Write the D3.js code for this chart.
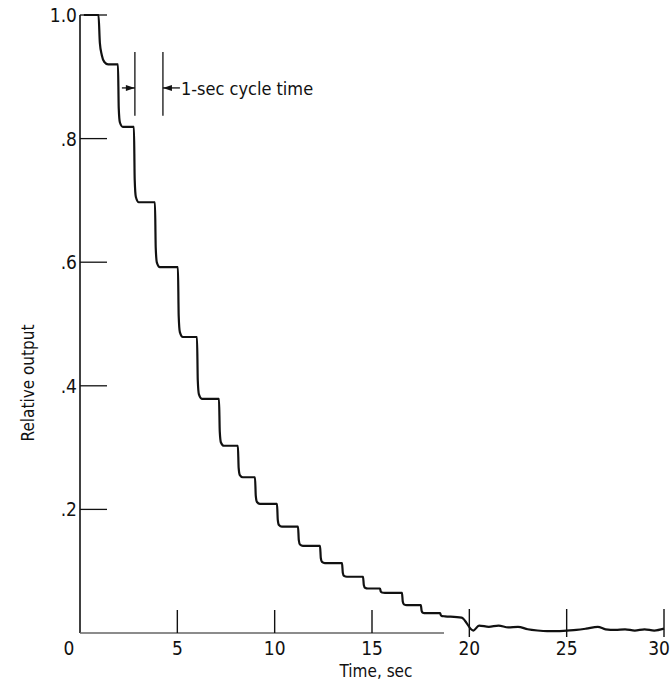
<!DOCTYPE html>
<html>
<head>
<meta charset="utf-8">
<script src="https://cdn.jsdelivr.net/npm/d3@7"></script>
<style>
  body { margin: 0; background: #fff; }
  svg text { font-family: "Liberation Sans Narrow", "DejaVu Sans Condensed", "Arial Narrow", sans-serif; fill: #111; }
</style>
</head>
<body>
<script>
// axis ticks
var xTicks = [0, 5, 10, 15, 20, 25, 30];
var yTicks = [0.2, 0.4, 0.6, 0.8, 1.0];
var yTickLabels = [".2", ".4", ".6", ".8", "1.0"];

// start of trace: flat at 1.0 then the first (rounded) drop
var headTimes = [0.2, 0.95, 1.02, 1.12, 1.25, 1.45];
var headValues = [1.0, 1.0, 0.955, 0.935, 0.924, 0.920];

// staircase: time of each drop (sec) and the level reached after it
var dropTimes = [1.95, 2.77, 3.85, 5.03, 6.01, 7.14, 8.11, 8.99, 10.12, 11.2, 12.33, 13.46, 14.54, 15.41, 16.54, 17.51, 18.5];
var dropLevels = [0.819, 0.697, 0.592, 0.479, 0.379, 0.303, 0.252, 0.209, 0.172, 0.141, 0.113, 0.091, 0.072, 0.065, 0.045, 0.032, 0.027];

// noisy tail near zero
var tailTimes = [19.6, 20.2, 20.5, 21.0, 21.5, 22.0, 22.5, 23.0, 23.5, 24.0, 24.5, 25.0, 25.5, 26.0, 26.6, 27.0, 27.5, 28.0, 28.5, 29.0, 29.5, 30.0];
var tailValues = [0.025, 0.004, 0.012, 0.010, 0.012, 0.009, 0.010, 0.006, 0.004, 0.003, 0.003, 0.004, 0.005, 0.007, 0.010, 0.006, 0.005, 0.006, 0.004, 0.006, 0.004, 0.007];

// "1-sec cycle time" marker
var markTimes = [2.82, 4.26];
var markRange = [0.837, 0.940];
var markArrowY = 0.882;

var svg = d3.select("body").append("svg")
    .attr("width", 672)
    .attr("height", 688);

var x = d3.scaleLinear().domain([0, 30]).range([80, 664]);
var y = d3.scaleLinear().domain([0, 1]).range([633, 15]);

// build trace points
var pts = [];
headTimes.forEach(function(t, i) { pts.push([t, headValues[i]]); });
var prev = headValues[headValues.length - 1];
dropTimes.forEach(function(t, i) {
    var v = dropLevels[i], d = prev - v;
    pts.push([t, prev]);
    pts.push([t + 0.04, v + d * 0.3]);
    pts.push([t + 0.1, v + d * 0.07]);
    pts.push([t + 0.25, v]);
    prev = v;
});
tailTimes.forEach(function(t, i) { pts.push([t, tailValues[i]]); });

// axes lines
svg.append("line")
    .attr("x1", x(0)).attr("x2", x(0))
    .attr("y1", y(1)).attr("y2", y(0))
    .attr("stroke", "#111").attr("stroke-width", 1.6);
svg.append("line")
    .attr("x1", x(0)).attr("x2", x(18.7))
    .attr("y1", y(0)).attr("y2", y(0))
    .attr("stroke", "#666").attr("stroke-width", 1.4);

// y ticks (inward)
svg.selectAll(".ytick")
    .data(yTicks)
    .enter().append("line")
    .attr("x1", x(0)).attr("x2", x(0) + 27)
    .attr("y1", function(d) { return y(d); })
    .attr("y2", function(d) { return y(d); })
    .attr("stroke", "#111").attr("stroke-width", 1.3);

svg.selectAll(".ylab")
    .data(yTicks)
    .enter().append("text")
    .attr("x", x(0) - 3)
    .attr("y", function(d) { return y(d) + 7; })
    .attr("text-anchor", "end")
    .attr("font-size", 19)
    .text(function(d, i) { return yTickLabels[i]; });

// x ticks
svg.selectAll(".xtick")
    .data(xTicks.slice(1))
    .enter().append("line")
    .attr("x1", function(d) { return x(d); })
    .attr("x2", function(d) { return x(d); })
    .attr("y1", function(d) { return d >= 20 ? y(0) - 24 : y(0) - 23; })
    .attr("y2", function(d) { return d >= 20 ? y(0) + 4 : y(0); })
    .attr("stroke", "#111").attr("stroke-width", 1.4);

svg.selectAll(".xlab")
    .data(xTicks)
    .enter().append("text")
    .attr("x", function(d) { return d === 0 ? x(d) - 11 : (d === 30 ? x(d) + 6 : x(d)); })
    .attr("y", y(0) + 22)
    .attr("text-anchor", function(d) { return d === 30 ? "end" : "middle"; })
    .attr("font-size", 19)
    .text(function(d) { return d; });

// axis titles
svg.append("text")
    .attr("x", 376).attr("y", 677)
    .attr("text-anchor", "middle")
    .attr("font-size", 17)
    .text("Time,  sec");

svg.append("text")
    .attr("transform", "translate(34,383) rotate(-90)")
    .attr("text-anchor", "middle")
    .attr("font-size", 17)
    .text("Relative output");

// trace
var line = d3.line()
    .x(function(d) { return x(d[0]); })
    .y(function(d) { return y(d[1]); })
    .curve(d3.curveMonotoneX);

svg.append("path")
    .datum(pts)
    .attr("d", line)
    .attr("fill", "none")
    .attr("stroke", "#111")
    .attr("stroke-width", 2.2)
    .attr("stroke-linejoin", "round");

// cycle-time marker
svg.selectAll(".mark")
    .data(markTimes)
    .enter().append("line")
    .attr("x1", function(d) { return x(d); })
    .attr("x2", function(d) { return x(d); })
    .attr("y1", y(markRange[1]))
    .attr("y2", y(markRange[0]))
    .attr("stroke", "#111").attr("stroke-width", 1.3);

var ay = y(markArrowY);
var xl = x(markTimes[0]), xr = x(markTimes[1]);
svg.append("line")
    .attr("x1", xl - 13).attr("x2", xl).attr("y1", ay).attr("y2", ay)
    .attr("stroke", "#111").attr("stroke-width", 1.3);
svg.append("path")
    .attr("d", "M" + xl + "," + ay + "L" + (xl - 9) + "," + (ay - 3) + "L" + (xl - 9) + "," + (ay + 3) + "Z")
    .attr("fill", "#111");
svg.append("line")
    .attr("x1", xr).attr("x2", xr + 17).attr("y1", ay).attr("y2", ay)
    .attr("stroke", "#111").attr("stroke-width", 1.3);
svg.append("path")
    .attr("d", "M" + xr + "," + ay + "L" + (xr + 9) + "," + (ay - 3) + "L" + (xr + 9) + "," + (ay + 3) + "Z")
    .attr("fill", "#111");

svg.append("text")
    .attr("x", xr + 18)
    .attr("y", ay + 7)
    .attr("font-size", 18)
    .text("1-sec cycle time");
</script>
</body>
</html>
